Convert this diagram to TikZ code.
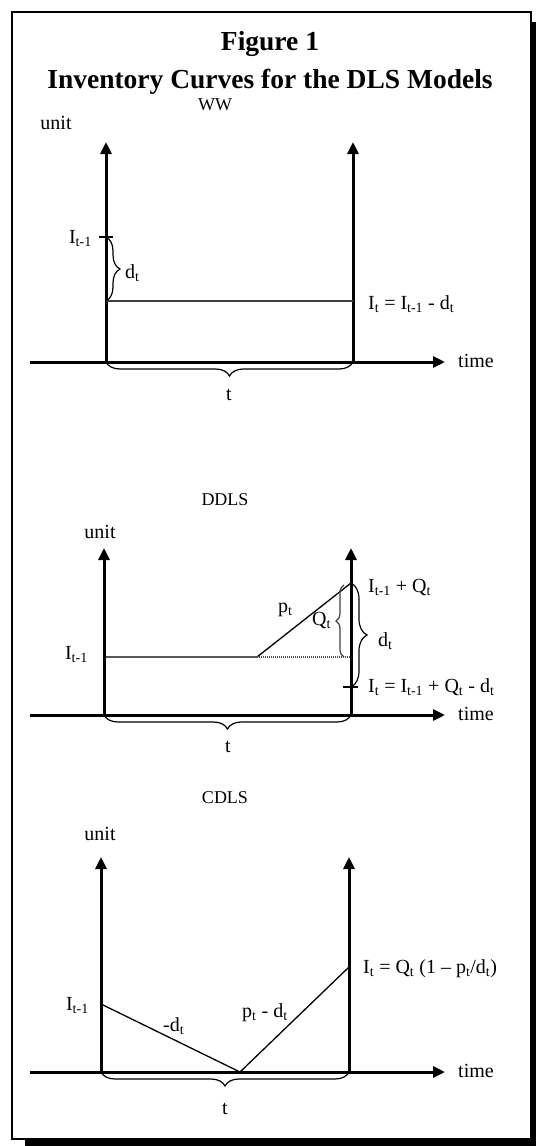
\documentclass[tikz,border=0pt]{standalone}
\usepackage{fontspec}
\setmainfont{Liberation Serif}
\usetikzlibrary{arrows.meta,decorations.pathreplacing}
\newcommand{\ssb}[1]{\textsubscript{#1}}
\begin{document}
\begin{tikzpicture}[x=1pt,y=-1pt,
  axis/.style={line width=3pt,-{Triangle[length=12pt,width=11pt]}},
  thinline/.style={line width=1.3pt},
  grayline/.style={line width=1.5pt,black!75},
  dotline/.style={line width=2pt,black!70,dash pattern=on 1.2pt off 0.8pt},
  bracedeco/.style={line width=1.2pt,decorate,decoration={brace,amplitude=#1}},
  lbl/.style={font=\fontsize{20}{24}\selectfont,inner sep=0pt},
  ttl/.style={font=\fontsize{18}{22}\selectfont,inner sep=0pt},
  head/.style={font=\fontsize{27.5}{32}\selectfont\bfseries,inner sep=0pt}]
\useasboundingbox (0,0) rectangle (536,1146);
% frame
\draw[line width=2.5pt] (12,12) rectangle (531,1139);
\fill (531,22) rectangle (536,1146);
\fill (25,1139) rectangle (536,1146);
% title
\node[head,anchor=base] (fig) at (270,50) {Figure 1};
\node[head,anchor=base] (title) at (270,88) {Inventory Curves for the DLS Models};

% ===== WW =====
\node[ttl,anchor=base] (wwname) at (215,110) {WW};
\node[lbl,anchor=base] (wwunit) at (56,129) {unit};
\coordinate (w-o) at (106,362);
\coordinate (w-top) at (106,142);
\coordinate (w-r) at (353,362);
\coordinate (w-rtop) at (353,142);
\coordinate (w-xs) at (30,362);
\coordinate (w-xe) at (445,362);
\draw[axis] (w-o) -- (w-top);
\draw[axis] (w-r) -- (w-rtop);
\draw[axis] (w-xs) -- (w-xe);
\node[lbl,anchor=base west] (w-time) at (458,367) {time};
\coordinate (w-i0) at (106,237);
\coordinate (w-i1) at (106,301);
\coordinate (w-i1r) at (353,301);
\coordinate (w-tk1) at (99,237);
\coordinate (w-tk2) at (113,237);
\draw[thinline] (w-tk1) -- (w-tk2);
\draw[grayline] (w-i1) -- (w-i1r);
\draw[bracedeco=14pt] (w-i0) -- (w-i1);
\node[lbl,anchor=base east] (w-lab0) at (92,243) {I\ssb{t-1}};
\node[lbl,anchor=base west] (w-labd) at (125,278) {d\ssb{t}};
\node[lbl,anchor=base west] (w-lab1) at (368,309) {I\ssb{t} = I\ssb{t-1} - d\ssb{t}};
\draw[bracedeco=14pt] (w-r) -- (w-o);
\node[lbl,anchor=base] (w-t) at (229,400) {t};

% ===== DDLS =====
\node[ttl,anchor=base] (ddname) at (225,505) {DDLS};
\node[lbl,anchor=base] (ddunit) at (100,538) {unit};
\coordinate (d-o) at (104,715);
\coordinate (d-top) at (104,548);
\coordinate (d-r) at (351,715);
\coordinate (d-rtop) at (351,548);
\coordinate (d-xs) at (30,715);
\coordinate (d-xe) at (445,715);
\draw[axis] (d-o) -- (d-top);
\draw[axis] (d-r) -- (d-rtop);
\draw[axis] (d-xs) -- (d-xe);
\node[lbl,anchor=base west] (d-time) at (458,720) {time};
\coordinate (d-i0) at (104,657);
\coordinate (d-k) at (257,657);
\coordinate (d-kr) at (351,657);
\coordinate (d-peak) at (351,583);
\coordinate (d-qb) at (344,657);
\coordinate (d-qt) at (344,585);
\coordinate (d-db) at (351,687);
\coordinate (d-tk1) at (343,687);
\coordinate (d-tk2) at (358,687);
\draw[thinline] (d-i0) -- (d-k) -- (d-peak);
\draw[dotline] (d-k) -- (d-kr);
\draw[bracedeco=8pt,black!75] (d-qb) -- (d-qt);
\draw[bracedeco=16pt] (d-peak) -- (d-db);
\draw[thinline] (d-tk1) -- (d-tk2);
\node[lbl,anchor=base east] (d-lab0) at (88,659) {I\ssb{t-1}};
\node[lbl,anchor=base west] (d-labp) at (278,612) {p\ssb{t}};
\node[lbl,anchor=base west] (d-labq) at (312,625) {Q\ssb{t}};
\node[lbl,anchor=base west] (d-labd) at (378,646) {d\ssb{t}};
\node[lbl,anchor=base west] (d-lab1) at (368,592) {I\ssb{t-1} + Q\ssb{t}};
\node[lbl,anchor=base west] (d-lab2) at (368,692) {I\ssb{t} = I\ssb{t-1} + Q\ssb{t} - d\ssb{t}};
\draw[bracedeco=14pt] (d-r) -- (d-o);
\node[lbl,anchor=base] (d-t) at (228,752) {t};

% ===== CDLS =====
\node[ttl,anchor=base] (cdname) at (225,803) {CDLS};
\node[lbl,anchor=base] (cdunit) at (100,840) {unit};
\coordinate (c-o) at (101,1072);
\coordinate (c-top) at (101,857);
\coordinate (c-r) at (349,1072);
\coordinate (c-rtop) at (349,857);
\coordinate (c-xs) at (30,1072);
\coordinate (c-xe) at (445,1072);
\draw[axis] (c-o) -- (c-top);
\draw[axis] (c-r) -- (c-rtop);
\draw[axis] (c-xs) -- (c-xe);
\node[lbl,anchor=base west] (c-time) at (458,1077) {time};
\coordinate (c-a) at (101,1004);
\coordinate (c-v) at (240,1072);
\coordinate (c-b) at (349,967);
\draw[thinline] (c-a) -- (c-v) -- (c-b);
\node[lbl,anchor=base east] (c-lab0) at (89,1010) {I\ssb{t-1}};
\node[lbl,anchor=base west] (c-labd) at (163,1031) {-d\ssb{t}};
\node[lbl,anchor=base west] (c-labpd) at (242,1017) {p\ssb{t} - d\ssb{t}};
\node[lbl,anchor=base west] (c-lab1) at (363,973) {I\ssb{t} = Q\ssb{t} (1 -- p\ssb{t}/d\ssb{t})};
\draw[bracedeco=14pt] (c-r) -- (c-o);
\node[lbl,anchor=base] (c-t) at (225,1114) {t};
\end{tikzpicture}
\end{document}
